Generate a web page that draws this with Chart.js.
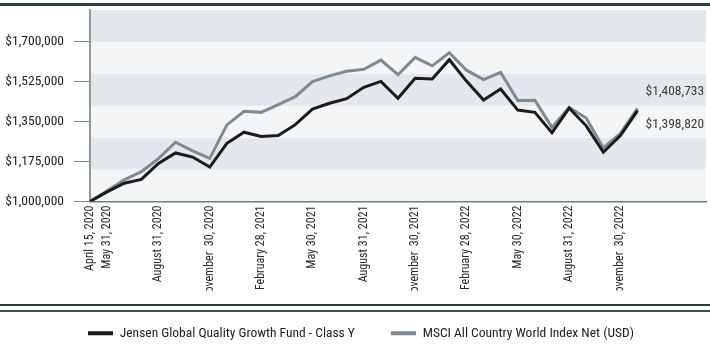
<!DOCTYPE html>
<html lang="en">
<head>
<meta charset="utf-8">
<title>Jensen Global Quality Growth Fund - Class Y</title>
<script src="https://cdn.jsdelivr.net/npm/chart.js@4.4.1/dist/chart.umd.min.js"></script>
<style>
    html, body { margin: 0; padding: 0; background: #ffffff; }
</style>
</head>
<body>
<canvas id="grafico" width="710" height="346"></canvas>
<script>
//Fechas de cada punto (categorías del eje X).
const fechas = [
    'April 15, 2020', 'May 31, 2020', 'June 30, 2020', 'July 31, 2020', 'August 31, 2020',
    'September 30, 2020', 'October 31, 2020', 'November  30, 2020', 'December 31, 2020',
    'January 31, 2021', 'February 28, 2021', 'March 31, 2021', 'April 30, 2021', 'May 30, 2021',
    'June 30, 2021', 'July 31, 2021', 'August 31, 2021', 'September 30, 2021', 'October 31, 2021',
    'November  30, 2021', 'December 31, 2021', 'January 31, 2022', 'February 28, 2022',
    'March 31, 2022', 'April 30, 2022', 'May 30, 2022', 'June 30, 2022', 'July 31, 2022',
    'August 31, 2022', 'September 30, 2022', 'October 31, 2022', 'November  30, 2022',
    'December 31, 2022'
];

//Categorías vacías al final (espacio para las etiquetas de valor final).
const categoriasVacias = ['', '', '', ''];

//Etiquetas visibles en el eje X.
const etiquetasEje = [
    'April 15, 2020', 'May 31, 2020', 'August 31, 2020', 'November  30, 2020',
    'February 28, 2021', 'May 30, 2021', 'August 31, 2021', 'November  30, 2021',
    'February 28, 2022', 'May 30, 2022', 'August 31, 2022', 'November  30, 2022'
];

//Valor de una inversión de $1,000,000.
const valoresFondo = [
    1000000, 1042000, 1080000, 1097000, 1167000, 1213000, 1195000, 1151000, 1255000,
    1304000, 1285000, 1289000, 1337000, 1405000, 1431000, 1451000, 1501000, 1527000,
    1453000, 1541000, 1537000, 1622000, 1528000, 1445000, 1493000, 1401000, 1391000,
    1301000, 1410000, 1332000, 1216000, 1289000, 1398820
];
const valoresIndice = [
    1000000, 1047000, 1095000, 1131000, 1188000, 1260000, 1222000, 1189000, 1336000,
    1396000, 1391000, 1425000, 1460000, 1526000, 1551000, 1571000, 1580000, 1620000,
    1556000, 1632000, 1595000, 1653000, 1576000, 1535000, 1566000, 1443000, 1444000,
    1325000, 1413000, 1366000, 1235000, 1299000, 1408733
];

//Marcas del eje Y y bordes de las franjas de fondo.
const marcasY = [1000000, 1175000, 1350000, 1525000, 1700000];
const bordesFranjas = [1000000, 1140000, 1280000, 1420000, 1560000, 1700000, 1840000];

//Roboto con ancho condensado (se pasa "condensed" en el campo weight).
const fuente = 'Roboto, sans-serif';
const ancho = 'condensed';

const formatoDolar = v => '$' + Math.round(v).toLocaleString('en-US');

//Franjas de fondo y líneas decorativas.
const fondo = {
    id: 'fondo',
    beforeDraw(chart) {
        const { ctx, chartArea: a, scales: { y } } = chart;
        ctx.save();
        for (let k = 0; k < bordesFranjas.length - 1; k++) {
            const y1 = y.getPixelForValue(bordesFranjas[k]);
            const y2 = y.getPixelForValue(bordesFranjas[k + 1]);
            ctx.fillStyle = k % 2 === 0 ? '#f3f5f7' : '#e4e7eb';
            ctx.fillRect(a.left, y2, a.right - a.left, y1 - y2);
        }
        ctx.fillStyle = '#2f3d43';
        ctx.fillRect(0, 3, chart.width, 3);
        ctx.fillStyle = '#2b393f';
        ctx.fillRect(0, 304, chart.width, 2);
        ctx.fillStyle = '#3e5058';
        ctx.fillRect(0, 310, chart.width, 2);
        ctx.restore();
    }
};

//Leyenda alineada con el eje Y.
const posicionLeyenda = {
    id: 'posicionLeyenda',
    afterLayout(chart) {
        const leyenda = chart.legend;
        leyenda.left = chart.chartArea.left - 2 - leyenda.options.labels.padding;
    }
};

//Etiquetas con el valor final de cada serie.
const valoresFinales = {
    id: 'valoresFinales',
    afterDatasetsDraw(chart) {
        const { ctx, scales: { x, y } } = chart;
        const ultimo = valoresFondo.length - 1;
        const xTexto = x.getPixelForValue(ultimo) + 8;
        ctx.save();
        ctx.font = ancho + ' 13.5px ' + fuente;
        ctx.fillStyle = '#3a3a3a';
        ctx.textAlign = 'left';
        ctx.textBaseline = 'middle';
        ctx.fillText(formatoDolar(valoresIndice[ultimo]), xTexto, y.getPixelForValue(valoresIndice[ultimo]) - 17);
        ctx.fillText(formatoDolar(valoresFondo[ultimo]), xTexto, y.getPixelForValue(valoresFondo[ultimo]) + 14);
        ctx.restore();
    }
};

const ctx = document.querySelector('#grafico').getContext('2d');
const myChart = new Chart(ctx, {
    type: 'line',
    data: {
        labels: fechas.concat(categoriasVacias),
        datasets: [{
            label: 'Jensen Global Quality Growth Fund - Class Y',
            data: valoresFondo,
            borderColor: '#1b1b1b',
            backgroundColor: '#1b1b1b',
            borderWidth: 3,
            pointRadius: 0,
            tension: 0
        }, {
            label: 'MSCI All Country World Index Net (USD)',
            data: valoresIndice,
            borderColor: '#7c8b93',
            backgroundColor: '#7c8b93',
            borderWidth: 3,
            pointRadius: 0,
            tension: 0
        }]
    },
    options: {
        responsive: false,
        animation: false,
        layout: { autoPadding: false, padding: { top: 10, right: 4, left: 0, bottom: -4 } },
        plugins: {
            tooltip: { enabled: false },
            legend: {
                position: 'bottom',
                align: 'start',
                labels: {
                    boxWidth: 25,
                    boxHeight: 4,
                    padding: 36,
                    color: '#222222',
                    font: { family: fuente, weight: ancho, size: 13.5 },
                    generateLabels: chart => chart.data.datasets.map((ds, i) => ({
                        text: ds.label,
                        fillStyle: ds.borderColor,
                        strokeStyle: ds.borderColor,
                        lineWidth: 0,
                        fontColor: '#222222',
                        datasetIndex: i
                    }))
                }
            }
        },
        scales: {
            x: {
                afterFit: eje => {
                    eje.height = 89;
                    eje.paddingLeft = 0;
                    eje.paddingRight = 0;
                },
                grid: { display: false, drawTicks: false },
                border: { display: true, color: '#6f7c7c', width: 1.5 },
                ticks: {
                    autoSkip: false,
                    minRotation: 90,
                    maxRotation: 90,
                    padding: 4,
                    color: '#2a2a2a',
                    font: { family: fuente, weight: ancho, size: 12 },
                    callback: function (valor) {
                        const etiqueta = this.getLabelForValue(valor);
                        return etiquetasEje.includes(etiqueta) ? etiqueta : '';
                    }
                }
            },
            y: {
                min: 1000000,
                max: 1840000,
                afterBuildTicks: eje => { eje.ticks = marcasY.map(v => ({ value: v })); },
                afterFit: eje => {
                    eje.width = 90;
                    eje.paddingTop = 0;
                    eje.paddingBottom = 0;
                },
                grid: { drawOnChartArea: false, drawTicks: true, tickLength: 16, color: '#7f8a8a' },
                border: { display: true, color: '#8e9999', width: 2 },
                ticks: {
                    padding: 10,
                    color: '#1e1e1e',
                    font: { family: fuente, weight: ancho, size: 13.5 },
                    callback: v => formatoDolar(v)
                }
            }
        }
    },
    plugins: [fondo, posicionLeyenda, valoresFinales]
});
</script>
</body>
</html>
